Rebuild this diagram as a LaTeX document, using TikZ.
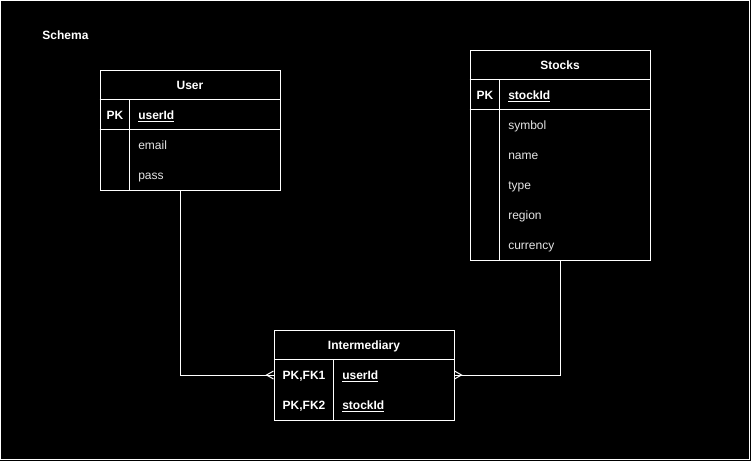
\documentclass[tikz,border=0pt]{standalone}
\usepackage{fontspec}
\setmainfont{Liberation Sans}
\usetikzlibrary{calc}
\begin{document}
\begin{tikzpicture}[x=0.75pt,y=-0.75pt,
  font=\fontsize{9}{11}\selectfont,
  every node/.style={text=white, inner sep=0pt},
  label text/.style={text height=8.5pt, text depth=2pt},
  edge/.style={draw=white, line width=0.75pt},
  tablebox/.style={draw=white, line width=0.75pt, minimum width=135pt, inner sep=0pt},
  title/.style={label text, font=\fontsize{9}{11}\selectfont\bfseries},
  keycol/.style={label text, font=\fontsize{9}{11}\selectfont\bfseries},
  keyname/.style={label text, anchor=west, font=\fontsize{9}{11}\selectfont\bfseries},
  attr/.style={label text, anchor=west, text=white!90!black},
  conn/.style={draw=white, line width=0.75pt}
]
% canvas and frame
\fill[black] (0,0) rectangle (751,461);
\useasboundingbox (0,0) rectangle (751,461);
\draw[draw=white, line width=0.75pt] (0.5,0.5) rectangle (749.5,459.5);

\node[title] (schema) at (65.5,35) {Schema};

% ---- User table
\node[tablebox, minimum height=90pt] (user) at (190,130) {};
\draw[edge] ($(user.north west)+(0,30)$) -- ($(user.north east)+(0,30)$);
\draw[edge] ($(user.north west)+(0,60)$) -- ($(user.north east)+(0,60)$);
\draw[edge] ($(user.north west)+(30,30)$) -- ($(user.south west)+(30,0)$);
\node[title] (userT) at (190,85) {User};
\node[keycol] (userPK) at (115,115) {PK};
\node[keyname] (userId) at (138,115) {\underline{userId}};
\node[attr] (userEmail) at (138,145) {email};
\node[attr] (userPass) at (138,175) {pass};

% ---- Stocks table
\node[tablebox, minimum height=157.5pt] (stocks) at (560,155) {};
\draw[edge] ($(stocks.north west)+(0,30)$) -- ($(stocks.north east)+(0,30)$);
\draw[edge] ($(stocks.north west)+(0,60)$) -- ($(stocks.north east)+(0,60)$);
\draw[edge] ($(stocks.north west)+(30,30)$) -- ($(stocks.south west)+(30,0)$);
\node[title] (stocksT) at (560,65) {Stocks};
\node[keycol] (stocksPK) at (485,95) {PK};
\node[keyname] (stockId) at (508,95) {\underline{stockId}};
\node[attr] (stSymbol) at (508,125) {symbol};
\node[attr] (stName) at (508,155) {name};
\node[attr] (stType) at (508,185) {type};
\node[attr] (stRegion) at (508,215) {region};
\node[attr] (stCurrency) at (508,245) {currency};

% ---- Intermediary table
\node[tablebox, minimum height=67.5pt] (inter) at (364,375) {};
\draw[edge] ($(inter.north west)+(0,30)$) -- ($(inter.north east)+(0,30)$);
\draw[edge] ($(inter.north west)+(60,30)$) -- ($(inter.south west)+(60,0)$);
\node[title] (interT) at (364,345) {Intermediary};
\node[keycol] (interFK1) at (304,375) {PK,FK1};
\node[keycol] (interFK2) at (304,405) {PK,FK2};
\node[keyname] (interUser) at (342,375) {\underline{userId}};
\node[keyname] (interStock) at (342,405) {\underline{stockId}};

% ---- relationships
\draw[conn] ([xshift=-7.5pt]user.south) |- (inter.west);
\draw[conn] (stocks.south) |- (inter.east);
% crow's feet (many)
\draw[conn] ($(inter.west)+(0,-4)$) -- ($(inter.west)+(-7,0)$) -- ($(inter.west)+(0,4)$);
\draw[conn] ($(inter.east)+(0,-4)$) -- ($(inter.east)+(7,0)$) -- ($(inter.east)+(0,4)$);
\end{tikzpicture}
\end{document}
